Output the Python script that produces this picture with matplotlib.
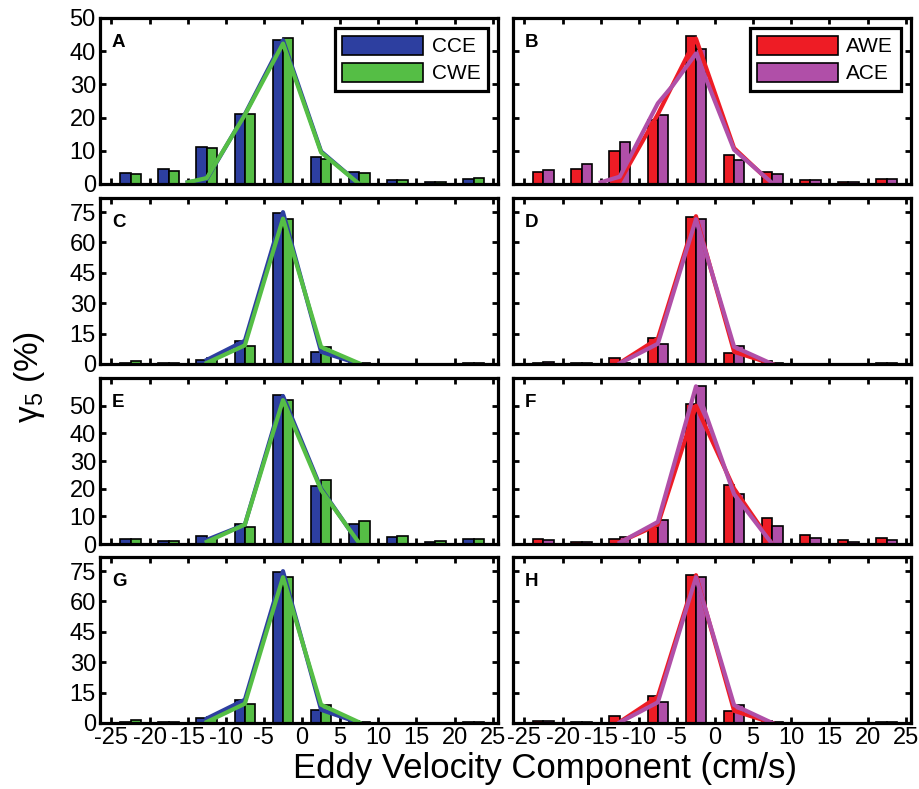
import matplotlib
matplotlib.use("Agg")
import matplotlib.pyplot as plt
import numpy as np

plt.rcParams['font.family'] = ['Liberation Sans', 'DejaVu Sans']
plt.rcParams['mathtext.fontset'] = 'custom'
plt.rcParams['mathtext.rm'] = 'Liberation Sans'
plt.rcParams['mathtext.it'] = 'Liberation Sans:italic'

# bin centres (cm/s)
bins = [-22.5, -17.5, -12.5, -7.5, -2.5, 2.5, 7.5, 12.5, 17.5, 22.5]
xticks = [-25, -20, -15, -10, -5, 0, 5, 10, 15, 20, 25]
xticklabels = ["-25", "-20", "-15", "-10", "-5", "0", "5", "10", "15", "20", "25"]

# bar heights (%)
A_cce = [3.4, 4.5, 11.0, 21.0, 43.5, 8.2, 3.6, 1.3, 0.5, 1.4]
A_cwe = [3.1, 4.0, 10.8, 21.1, 44.1, 7.6, 3.3, 1.2, 0.6, 1.7]
B_awe = [3.7, 4.4, 10.0, 19.3, 44.5, 8.7, 3.6, 1.3, 0.6, 1.6]
B_ace = [4.2, 6.1, 12.6, 20.8, 40.8, 7.2, 2.9, 1.2, 0.5, 1.5]
C_cce = [0.7, 0.3, 2.1, 11.4, 74.7, 5.9, 0.7, 0.0, 0.0, 0.5]
C_cwe = [1.3, 0.3, 2.8, 9.1, 71.5, 8.6, 0.5, 0.0, 0.0, 0.3]
D_awe = [0.7, 0.5, 3.0, 12.9, 72.7, 5.6, 1.3, 0.0, 0.0, 0.5]
D_ace = [1.0, 0.3, 0.5, 9.9, 71.7, 8.7, 0.7, 0.0, 0.0, 0.3]
E_cce = [1.7, 1.0, 2.8, 7.3, 53.7, 21.1, 7.3, 2.4, 0.8, 1.7]
E_cwe = [1.8, 1.0, 1.8, 6.0, 51.9, 23.0, 8.3, 2.9, 1.0, 1.7]
F_awe = [1.9, 0.7, 1.7, 6.1, 50.7, 21.3, 9.4, 3.4, 1.3, 2.3]
F_ace = [1.3, 0.7, 2.7, 8.6, 57.0, 18.2, 6.6, 2.3, 0.6, 1.4]
G_cce = [0.7, 0.3, 2.3, 11.5, 74.8, 6.3, 0.8, 0.0, 0.0, 0.5]
G_cwe = [1.3, 0.3, 3.0, 9.4, 71.9, 9.1, 0.5, 0.0, 0.0, 0.3]
H_awe = [1.0, 0.5, 3.3, 13.2, 72.9, 5.8, 1.2, 0.0, 0.0, 0.5]
H_ace = [1.1, 0.3, 0.6, 10.2, 72.1, 8.9, 0.6, 0.0, 0.0, 0.3]

# fitted lines
lx = [-12.5, -7.5, -2.5, 2.5, 7.5]
A_cce_lx = [-15, -12.5, -7.5, -2.5, 2.5, 7.5]
A_cce_line = [0.5, 1.5, 21.0, 43.3, 9.8, 0.0]
A_cwe_lx = [-15, -12.5, -7.5, -2.5, 2.5, 7.5]
A_cwe_line = [0.5, 1.8, 20.8, 42.3, 9.5, 0.0]
B_awe_line = [0.8, 21.0, 43.8, 10.8, 0.0]
B_ace_lx = [-15, -12.5, -7.5, -5.5, -2.5, 2.5, 7.5]
B_ace_line = [0.5, 2.2, 24.3, 29.8, 39.3, 10.3, 0.3]
C_cce_line = [2.0, 11.5, 75.0, 6.0, 0.0]
C_cwe_line = [0.5, 9.2, 71.8, 8.4, 0.3]
D_awe_line = [0.5, 12.5, 73.0, 6.0, 0.0]
D_ace_line = [0.3, 10.0, 71.5, 8.5, 0.0]
E_cce_line = [1.5, 7.0, 53.5, 20.0, 0.0]
E_cwe_line = [0.8, 7.0, 52.0, 19.5, 0.3]
F_awe_line = [0.7, 7.0, 50.0, 20.0, 0.0]
F_ace_line = [0.5, 8.0, 57.0, 18.0, 0.0]
G_cce_line = [2.2, 11.5, 75.0, 6.5, 0.0]
G_cwe_line = [0.5, 9.5, 72.0, 9.0, 0.3]
H_awe_line = [0.5, 13.0, 73.0, 6.0, 0.0]
H_ace_line = [0.3, 10.2, 72.0, 8.8, 0.0]

blue = '#2D3FA0'
green = '#55BE45'
red = '#EE1C25'
purple = '#B04FA8'

fig = plt.figure(figsize=(9.2, 7.89), dpi=100)

lefts = [0.1087, 0.5576]
bottoms = [0.7668, 0.5387, 0.3105, 0.0837]
w, h = 0.4326, 0.2104

panels = [
    ("A", A_cce, A_cwe, (A_cce_lx, A_cce_line), (A_cwe_lx, A_cwe_line), 50, [0, 10, 20, 30, 40, 50]),
    ("B", B_awe, B_ace, (lx, B_awe_line), (B_ace_lx, B_ace_line), 50, [0, 10, 20, 30, 40, 50]),
    ("C", C_cce, C_cwe, (lx, C_cce_line), (lx, C_cwe_line), 82, [0, 15, 30, 45, 60, 75]),
    ("D", D_awe, D_ace, (lx, D_awe_line), (lx, D_ace_line), 82, [0, 15, 30, 45, 60, 75]),
    ("E", E_cce, E_cwe, (lx, E_cce_line), (lx, E_cwe_line), 60, [0, 10, 20, 30, 40, 50]),
    ("F", F_awe, F_ace, (lx, F_awe_line), (lx, F_ace_line), 60, [0, 10, 20, 30, 40, 50]),
    ("G", G_cce, G_cwe, (lx, G_cce_line), (lx, G_cwe_line), 82, [0, 15, 30, 45, 60, 75]),
    ("H", H_awe, H_ace, (lx, H_awe_line), (lx, H_ace_line), 82, [0, 15, 30, 45, 60, 75]),
]

bw = 1.35
x = np.array(bins)
for i, (lab, s1, s2, l1, l2, ytop, yt) in enumerate(panels):
    row, col = i // 2, i % 2
    ax = fig.add_axes([lefts[col], bottoms[row], w, h])
    if col == 0:
        c1, c2, n1, n2 = blue, green, "CCE", "CWE"
    else:
        c1, c2, n1, n2 = red, purple, "AWE", "ACE"
    ax.bar(x - bw / 2, s1, width=bw, color=c1, edgecolor='black', linewidth=1.2, label=n1)
    ax.bar(x + bw / 2, s2, width=bw, color=c2, edgecolor='black', linewidth=1.2, label=n2)
    ax.plot(l1[0], l1[1], color=c1, linewidth=3)
    ax.plot(l2[0], l2[1], color=c2, linewidth=3)
    ax.set_xlim(-26.5, 25.7)
    ax.set_ylim(0, ytop)
    ax.set_xticks(xticks)
    ax.set_yticks(yt)
    if row == 3:
        ax.set_xticklabels(xticklabels)
    else:
        ax.set_xticklabels([])
    if col == 0:
        ax.set_yticklabels([str(v) for v in yt])
    else:
        ax.set_yticklabels([])
    ax.tick_params(direction='in', length=4, width=2, top=True, right=True,
                   labelsize=17, pad=3)
    for sp in ax.spines.values():
        sp.set_linewidth(2.3)
    ax.text(0.03, 0.85, lab, transform=ax.transAxes, fontsize=13.5,
            fontweight='bold', ha='left', va='center')
    if row == 0:
        leg = ax.legend(loc='upper right', fontsize=15, fancybox=False,
                        edgecolor='black', framealpha=1, handlelength=3.9,
                        handleheight=1.05, labelspacing=0.3, borderpad=0.35,
                        handletextpad=0.4, borderaxespad=0.5)
        leg.get_frame().set_linewidth(2.3)

fig.text(0.592, 0.026, "Eddy Velocity Component (cm/s)", fontsize=25,
         ha='center', va='center')
fig.text(0.032, 0.522, r"$\mathregular{\gamma_5}$ (%)", fontsize=24,
         rotation=90, ha='center', va='center')

fig.savefig("out.png", dpi=100)
